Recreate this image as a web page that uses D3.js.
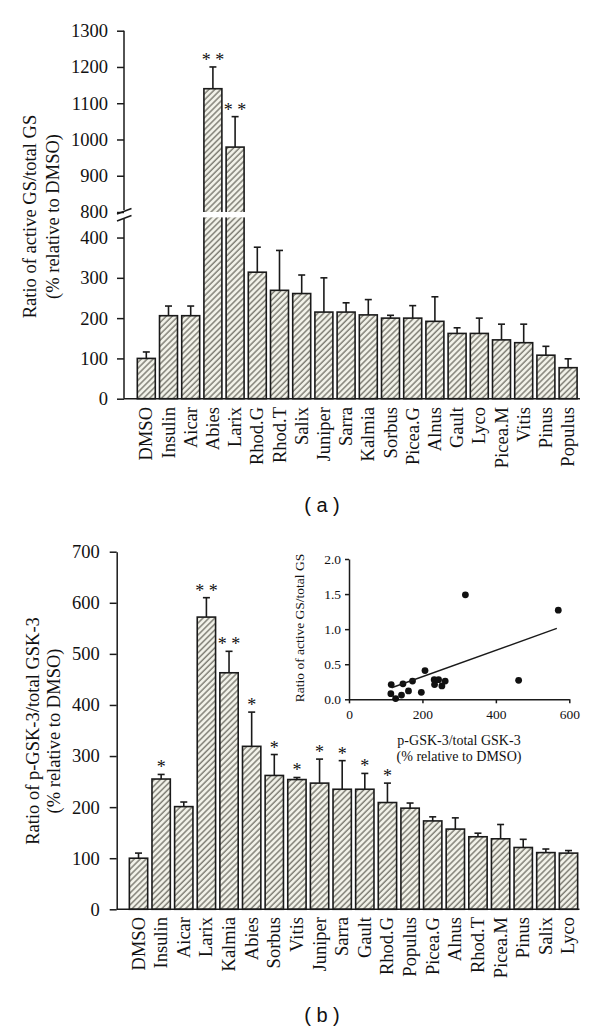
<!DOCTYPE html>
<html><head><meta charset="utf-8">
<script src="https://cdn.jsdelivr.net/npm/d3@7"></script>
<style>
body{margin:0;background:#fff}
svg{display:block}
text{font-family:"Liberation Serif","Times New Roman",serif;fill:#111}
</style>
</head><body><svg id="c" width="600" height="1029"></svg>
<script>
// ---------- Panel (a) data ----------
const catsA = ["DMSO","Insulin","Aicar","Abies","Larix","Rhod.G","Rhod.T","Salix","Juniper","Sarra","Kalmia","Sorbus","Picea.G","Alnus","Gault","Lyco","Picea.M","Vitis","Pinus","Populus"];
const valsA = [100,206,206,1140,979,314,269,261,215,215,208,200,200,192,162,162,146,139,108,77];
const errA  = [16,24,24,60,84,62,99,46,85,23,38,7,31,61,14,38,39,46,22,22];
const sigA  = ["","","","**","**","","","","","","","","","","","","","","",""];
const ticksALow  = [0,100,200,300,400];
const ticksAHigh = [800,900,1000,1100,1200,1300];

// ---------- Panel (b) data ----------
const catsB = ["DMSO","Insulin","Aicar","Larix","Kalmia","Abies","Sorbus","Vitis","Juniper","Sarra","Gault","Rhod.G","Populus","Picea.G","Alnus","Rhod.T","Picea.M","Pinus","Salix","Lyco"];
const valsB = [100,255,201,572,463,319,262,254,247,235,235,209,198,173,157,142,138,121,111,110];
const errB  = [10,9,9,38,42,67,41,4,47,56,31,38,10,8,22,7,28,16,7,5];
const sigB  = ["","*","","**","**","*","*","*","*","*","*","*","","","","","","","",""];
const ticksB = [0,100,200,300,400,500,600,700];

// ---------- Inset scatter data ----------
const scatX = [115,114,127,143,147,162,173,197,207,232,233,244,253,262,317,462,570];
const scatY = [0.21,0.08,0.01,0.06,0.22,0.12,0.26,0.10,0.41,0.28,0.21,0.28,0.19,0.26,1.49,0.27,1.27];
const fitX = [116,566];
const fitY = [0.165,1.01];
const insetXTicks = [0,200,400,600];
const insetYTicks = [0,0.5,1.0,1.5,2.0];

const svg = d3.select("#c");
const ink = "#1a1a1a";
const SERIF = '"Liberation Serif","Times New Roman",serif';

// hatch pattern
const defs = svg.append("defs");
const pat = defs.append("pattern").attr("id","hatch").attr("patternUnits","userSpaceOnUse")
  .attr("width",4.2).attr("height",10).attr("patternTransform","rotate(45)");
pat.append("rect").attr("width",4.2).attr("height",10).attr("fill","#f3f3ea");
pat.append("line").attr("x1",1).attr("x2",1).attr("y1",0).attr("y2",10)
  .attr("stroke","#807f76").attr("stroke-width",1.5);

function styleAxis(g, fs){
  g.attr("font-family",SERIF).attr("font-size",fs);
  g.selectAll("path,line").attr("stroke",ink).attr("stroke-width",1.5);
  g.selectAll("text").attr("fill","#111").attr("font-family",SERIF).attr("font-size",fs)
   .style("font-size",fs+"px").style("font-family",SERIF);
}

// ================= Panel (a) =================
{
  const x = d3.scaleBand().domain(catsA).range([135.2,579.2]).paddingInner(0.19).paddingOuter(0.095);
  const yLow = d3.scaleLinear().domain([0,450]).range([398.7,217.4]);
  const yHigh = d3.scaleLinear().domain([800,1300]).range([212,30.7]);
  const yv = v => v <= 450 ? yLow(v) : yHigh(v);
  const g = svg.append("g");

  catsA.forEach((c,i)=>{
    const v = valsA[i], x0 = x(c), w = x.bandwidth();
    g.append("rect").attr("x",x0).attr("y",yv(v)).attr("width",w).attr("height",yLow(0)-yv(v))
      .attr("fill","url(#hatch)").attr("stroke",ink).attr("stroke-width",1.6);
    if (v > 450) {
      g.append("rect").attr("x",x0-2).attr("y",yHigh(800)).attr("width",w+4)
        .attr("height",yLow(450)-yHigh(800)).attr("fill","#fff");
    }
    const e = v + errA[i], cx = x0 + w/2;
    g.append("line").attr("x1",cx).attr("x2",cx).attr("y1",yv(v)).attr("y2",yv(e)).attr("stroke",ink).attr("stroke-width",1.6);
    g.append("line").attr("x1",cx-3.5).attr("x2",cx+3.5).attr("y1",yv(e)).attr("y2",yv(e)).attr("stroke",ink).attr("stroke-width",1.6);
    if (sigA[i]) {
      g.append("text").attr("x",cx).attr("y",yv(e)-1).attr("text-anchor","middle")
        .style("font-size","18px").text(sigA[i].split("").join(" "));
    }
    g.append("text").attr("transform",`translate(${cx+6},407) rotate(-90)`)
      .attr("text-anchor","end").style("font-size","18.5px").text(c);
  });

  const axLow = g.append("g").attr("transform","translate(124,0)")
    .call(d3.axisLeft(yLow).tickValues(ticksALow).tickFormat(d3.format("d")).tickSize(7).tickSizeOuter(0).tickPadding(9));
  axLow.select(".domain").remove();
  styleAxis(axLow,18.5);
  g.append("line").attr("x1",124).attr("x2",124).attr("y1",yLow(0)).attr("y2",219).attr("stroke",ink).attr("stroke-width",1.5);
  const axHigh = g.append("g").attr("transform","translate(124,0)")
    .call(d3.axisLeft(yHigh).tickValues(ticksAHigh).tickFormat(d3.format("d")).tickSize(7).tickSizeOuter(0).tickPadding(9));
  axHigh.select(".domain").remove();
  styleAxis(axHigh,18.5);
  g.append("line").attr("x1",124).attr("x2",124).attr("y1",yHigh(1300)).attr("y2",210).attr("stroke",ink).attr("stroke-width",1.5);
  g.append("line").attr("x1",117).attr("y1",214).attr("x2",131.5).attr("y2",208.5).attr("stroke",ink).attr("stroke-width",1.5);
  g.append("line").attr("x1",117).attr("y1",221).attr("x2",131.5).attr("y2",215.5).attr("stroke",ink).attr("stroke-width",1.5);
  g.append("line").attr("x1",124).attr("x2",580).attr("y1",yLow(0)).attr("y2",yLow(0)).attr("stroke",ink).attr("stroke-width",1.6);

  const t = g.append("text").attr("transform","translate(36,216.5) rotate(-90)").attr("text-anchor","middle").style("font-size","18.5px");
  t.append("tspan").attr("x",0).attr("y",0).text("Ratio of active GS/total GS");
  t.append("tspan").attr("x",0).attr("y",23).text("(% relative to DMSO)");

  svg.append("text").attr("x",322).attr("y",512).attr("text-anchor","middle")
    .style("font-family",'"Liberation Sans",Arial,sans-serif').style("font-size","20px").attr("xml:space","preserve").text("( a )");
}

// ================= Panel (b) =================
{
  const x = d3.scaleBand().domain(catsB).range([127.2,579.8]).paddingInner(0.19).paddingOuter(0.095);
  const y = d3.scaleLinear().domain([0,700]).range([909.3,551.7]);
  const g = svg.append("g");
  catsB.forEach((c,i)=>{
    const v = valsB[i], x0 = x(c), w = x.bandwidth(), cx = x0 + w/2;
    g.append("rect").attr("x",x0).attr("y",y(v)).attr("width",w).attr("height",y(0)-y(v))
      .attr("fill","url(#hatch)").attr("stroke",ink).attr("stroke-width",1.6);
    const e = v + errB[i];
    g.append("line").attr("x1",cx).attr("x2",cx).attr("y1",y(v)).attr("y2",y(e)).attr("stroke",ink).attr("stroke-width",1.6);
    g.append("line").attr("x1",cx-3.5).attr("x2",cx+3.5).attr("y1",y(e)).attr("y2",y(e)).attr("stroke",ink).attr("stroke-width",1.6);
    if (sigB[i]) {
      g.append("text").attr("x",cx).attr("y",y(e)-1).attr("text-anchor","middle")
        .style("font-size","18px").text(sigB[i].split("").join(" "));
    }
    g.append("text").attr("transform",`translate(${cx+6},917) rotate(-90)`)
      .attr("text-anchor","end").style("font-size","18.5px").text(c);
  });
  const ax = g.append("g").attr("transform","translate(116.7,0)")
    .call(d3.axisLeft(y).tickValues(ticksB).tickFormat(d3.format("d")).tickSize(7).tickSizeOuter(0).tickPadding(10));
  styleAxis(ax,18.5);
  g.append("line").attr("x1",116.7).attr("x2",579.5).attr("y1",y(0)).attr("y2",y(0)).attr("stroke",ink).attr("stroke-width",1.6);

  const t = g.append("text").attr("transform","translate(39,731) rotate(-90)").attr("text-anchor","middle").style("font-size","18.5px");
  t.append("tspan").attr("x",0).attr("y",0).text("Ratio of p-GSK-3/total GSK-3");
  t.append("tspan").attr("x",0).attr("y",21).text("(% relative to DMSO)");

  svg.append("text").attr("x",322).attr("y",1022).attr("text-anchor","middle")
    .style("font-family",'"Liberation Sans",Arial,sans-serif').style("font-size","20px").attr("xml:space","preserve").text("( b )");
}

// ================= Inset =================
{
  const x = d3.scaleLinear().domain([0,600]).range([349,569.3]);
  const y = d3.scaleLinear().domain([0,2]).range([699.3,559]);
  const g = svg.append("g");
  const ay = g.append("g").attr("transform","translate(349,0)")
    .call(d3.axisLeft(y).tickValues(insetYTicks).tickFormat(d3.format(".1f")).tickSize(4).tickSizeOuter(0).tickPadding(4));
  styleAxis(ay,13.5);
  const ax = g.append("g").attr("transform","translate(0,699.3)")
    .call(d3.axisBottom(x).tickValues(insetXTicks).tickSize(4).tickSizeOuter(0).tickPadding(6));
  styleAxis(ax,13.5);
  g.selectAll("circle").data(scatX).join("circle")
    .attr("cx",(d)=>x(d)).attr("cy",(d,i)=>y(scatY[i])).attr("r",3.4).attr("fill","#111");
  g.append("line").attr("x1",x(fitX[0])).attr("y1",y(fitY[0])).attr("x2",x(fitX[1])).attr("y2",y(fitY[1]))
    .attr("stroke",ink).attr("stroke-width",1.4);
  g.append("text").attr("transform","translate(304,628) rotate(-90)").attr("text-anchor","middle")
    .style("font-size","13.5px").text("Ratio of active GS/total GS");
  const t = g.append("text").attr("text-anchor","middle").style("font-size","14px");
  t.append("tspan").attr("x",459).attr("y",745).text("p-GSK-3/total GSK-3");
  t.append("tspan").attr("x",459).attr("y",761).text("(% relative to DMSO)");
}
</script>
</body></html>
